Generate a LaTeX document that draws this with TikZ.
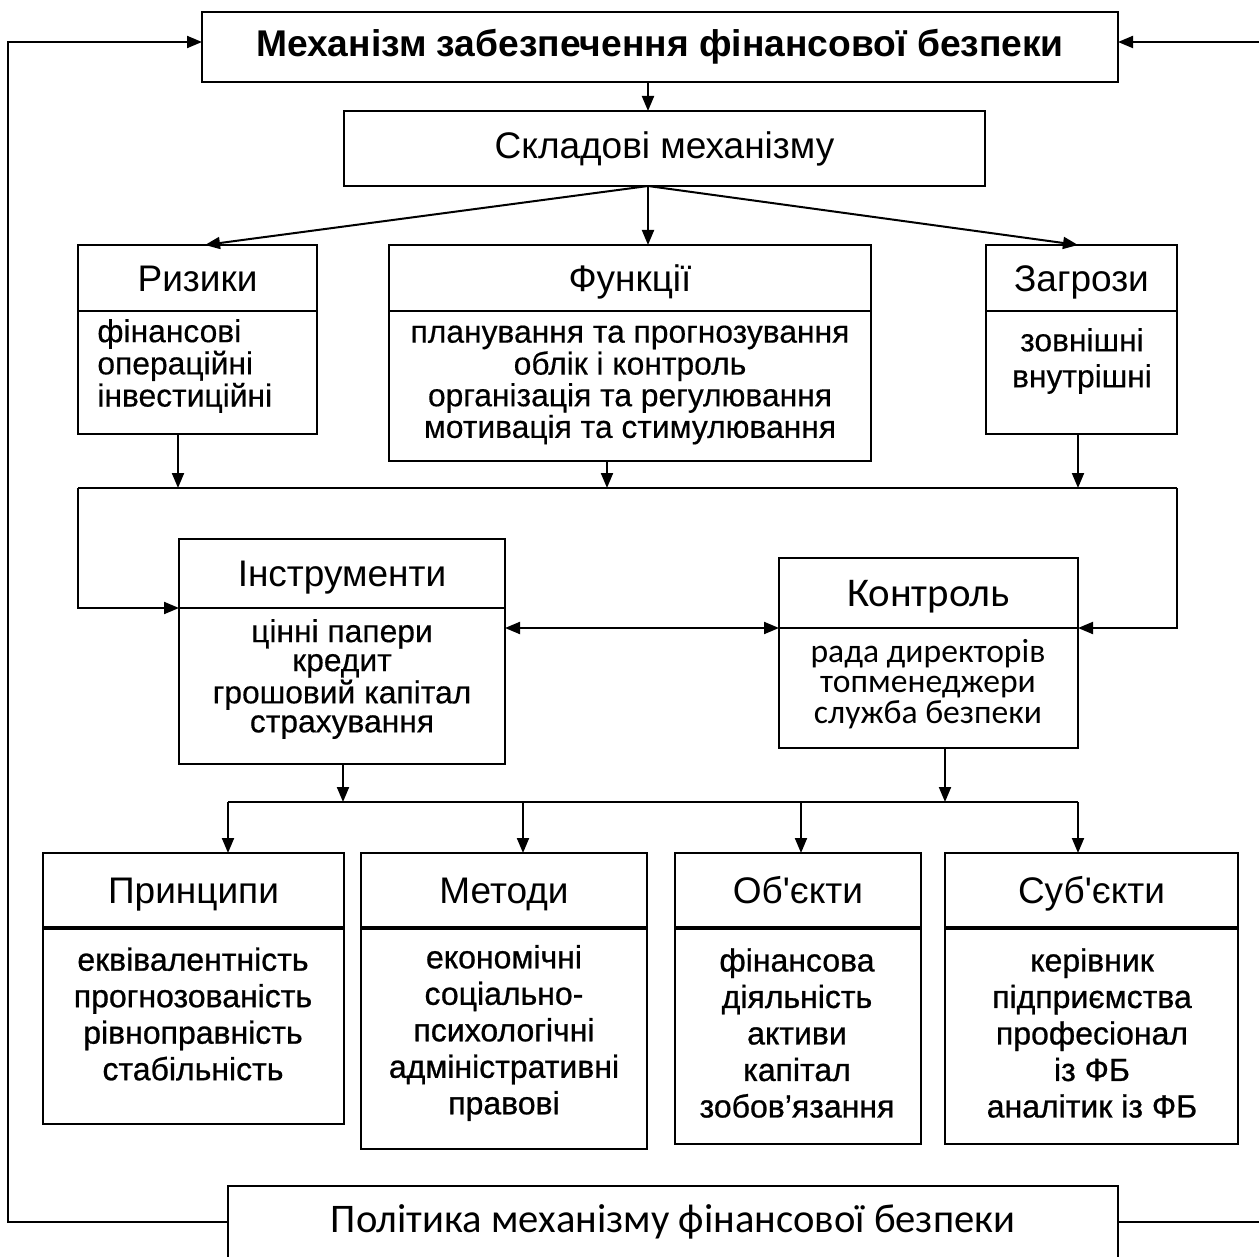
\documentclass[tikz,border=0pt]{standalone}
\usepackage{fontspec}
\setmainfont{Liberation Sans}[Ligatures=TeXOff]
\newfontfamily\calib{Carlito}[Ligatures=TeXOff]
\newfontfamily\semia{Liberation Sans}[Ligatures=TeXOff,FakeBold=0.4]
\newfontfamily\semib{Liberation Sans}[Ligatures=TeXOff,FakeBold=0.8]
\usetikzlibrary{arrows.meta}

\tikzset{
  box/.style={draw, line width=1pt, inner sep=0pt, outer sep=0pt, anchor=north west},
  wh/.style 2 args={minimum width=#1*0.5pt, minimum height=#2*0.5pt},
  head/.style={font=\fontsize{18.5}{20}\selectfont, text height=13.2pt, text depth=0pt},
  txt/.style={inner sep=0pt, align=center, font=\semia\fontsize{15.9}{14.5}\selectfont},
  txtb/.style={inner sep=0pt, align=center, font=\semib\fontsize{16}{18.25}\selectfont},
  arr/.style={line width=1pt, -{Triangle[length=7.5pt,width=6pt]}},
  arrs/.style={line width=1pt, {Triangle[length=7.5pt,width=6pt]}-{Triangle[length=7.5pt,width=6pt]}},
  line/.style={line width=1pt},
}

\begin{document}
\begin{tikzpicture}[x=0.5pt, y=-0.5pt]
  \clip (0,0) rectangle (1259,1257);

  % top
  \node[box, wh={916}{70}, font=\bfseries\fontsize{18.6}{22}\selectfont] (title) at (202,12) {Механізм забезпечення фінансової безпеки};
  \node[box, wh={641}{75}, head, text depth=3.5pt] (skl) at (344,111) {Складові механізму};

  %-------------
  \node[box, head, wh={239}{66}] (rizH) at (78,245) {Ризики};
  \node[box, wh={239}{123}] (rizB) at (78,311) {};
  \node[txt, align=left, anchor=west] (rizT) at (97,366) {фінансові\\операційні\\інвестиційні};

  \node[box, head, wh={482}{66}] (fH) at (389,245) {Функції};
  \node[box, wh={482}{150}] (fB) at (389,311) {};
  \node[txt] (fT) at (630,385) {планування та прогнозування\\облік і контроль\\організація та регулювання\\мотивація та стимулювання};

  \node[box, head, wh={191}{66}] (zH) at (986,245) {Загрози};
  \node[box, wh={191}{123}] (zB) at (986,311) {};
  \node[txt, font=\semia\fontsize{15.9}{18}\selectfont] (zT) at (1082,361) {зовнішні\\внутрішні};

  %-------------
  \node[box, head, wh={326}{69}] (iH) at (179,539) {Інструменти};
  \node[box, wh={326}{156}] (iB) at (179,608) {};
  \node[txt] (iT) at (342,679) {цінні папери\\кредит\\грошовий капітал\\страхування};

  \node[box, wh={299}{70}, font=\calib\fontsize{20.4}{22}\selectfont, text height=13.1pt, text depth=0pt] (kH) at (779,558) {Контроль};
  \node[box, wh={299}{120}] (kB) at (779,628) {};
  \node[txt, font=\calib\fontsize{16.8}{15.3}\selectfont] (kT) at (928,684) {рада директорів\\топменеджери\\служба безпеки};

  %-------------
  \node[box, head, wh={301}{75}] (pH) at (43,853) {Принципи};
  \node[box, wh={301}{196}] (pB) at (43,928) {};
  \node[txtb] (pT) at (193,1014) {еквівалентність\\прогнозованість\\рівноправність\\стабільність};

  \node[box, head, wh={286}{75}] (mH) at (361,853) {Методи};
  \node[box, wh={286}{221}] (mB) at (361,928) {};
  \node[txtb] (mT) at (504,1033) {економічні\\соціально-\\психологічні\\адміністративні\\правові};

  \node[box, head, wh={246}{75}] (oH) at (675,853) {Об'єкти};
  \node[box, wh={246}{216}] (oB) at (675,928) {};
  \node[txtb] (oT) at (797,1033) {фінансова\\діяльність\\активи\\капітал\\зобов’язання};

  \node[box, head, wh={293}{75}] (sH) at (945,853) {Суб'єкти};
  \node[box, wh={293}{216}] (sB) at (945,928) {};
  \node[txtb] (sT) at (1092,1033) {керівник\\підприємства\\професіонал\\із ФБ\\аналітик із ФБ};

  \foreach \n in {pH,mH,oH,sH}
    \draw[line width=1.6pt] (\n.south west) -- (\n.south east);

  \node[box, wh={890}{72}, font=\calib\fontsize{20.3}{24}\selectfont] (pol) at (228,1186) {Політика механізму фінансової безпеки};

  %------------- connectors
  \coordinate (lft) at (8,42);
  \coordinate (rgtT) at (1259,42);
  \coordinate (rgtB) at (1259,1222);
  \draw[arr] (pol.west) -| (lft) -- (title.west |- lft);
  \draw[arr] (rgtT) -- (title.east |- rgtT);
  \draw[line] (pol.east) -- (rgtB);

  \coordinate (s0) at (648,186);
  \draw[arr] (title.south -| s0) -- (skl.north -| s0);
  \draw[arr] (s0) -- (rizH.north -| 205,0);
  \draw[arr] (s0) -- (fH.north -| s0);
  \draw[arr] (s0) -- (zH.north -| 1078,0);

  \coordinate (busL) at (78,488);
  \coordinate (busR) at (1177,488);
  \draw[line] (busL) -- (busR);
  \foreach \n/\x in {rizB/178, fB/607, zB/1078}
    \draw[arr] (\n.south -| \x,0) -- (busL -| \x,0);
  \draw[arr] (busL) |- (iH.south west);
  \draw[arr] (busR) |- (kH.south east);

  \draw[arrs] (iB.east |- kH.south) -- (kH.south west);

  \coordinate (bus2L) at (228,802);
  \coordinate (bus2R) at (1078,802);
  \draw[arr] (iB.south -| 343,0) -- (bus2L -| 343,0);
  \draw[arr] (kB.south -| 945,0) -- (bus2L -| 945,0);
  \draw[line] (bus2L) -- (bus2R);
  \foreach \n/\x in {pH/228, mH/523, oH/801, sH/1078}
    \draw[arr] (bus2L -| \x,0) -- (\n.north -| \x,0);

\end{tikzpicture}
\end{document}
